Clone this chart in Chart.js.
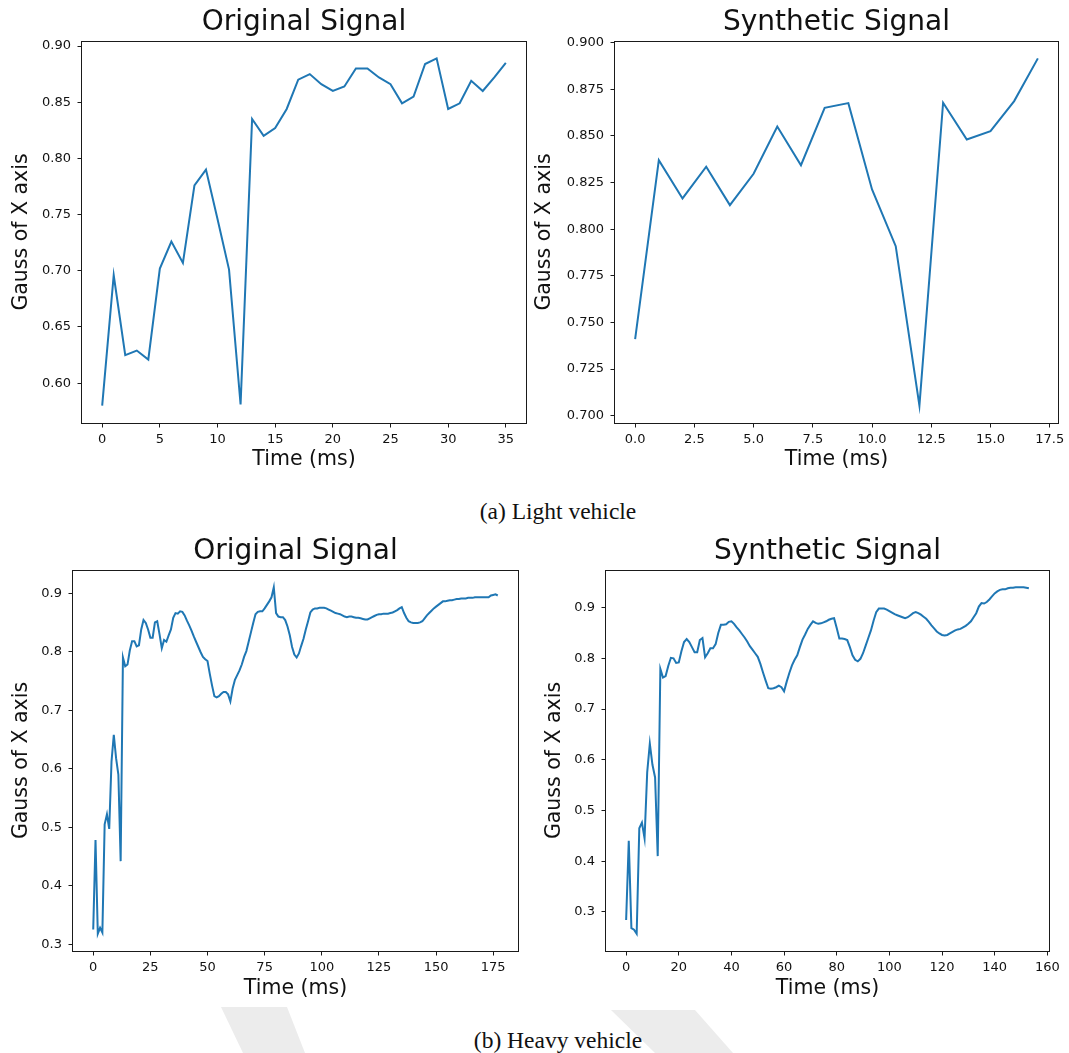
<!DOCTYPE html>
<html>
<head>
<meta charset="utf-8">
<script src="https://cdn.jsdelivr.net/npm/chart.js@4.4.1/dist/chart.umd.min.js"></script>
<style>
  body { margin: 0; background: #fff; }
  #page { position: relative; width: 1069px; height: 1053px; overflow: hidden; background: #fff; }
  canvas { position: absolute; }
  .caption { position: absolute; width: 300px; text-align: center; font-family: "Liberation Serif", serif; font-size: 23.5px; color: #111; line-height: 28px; }
  .mark { position: absolute; background: #ececec; }
</style>
</head>
<body>
<div id="page">
  <div class="mark" style="left:215px; top:1003px; width:95px; height:50px; clip-path: polygon(6px 4px, 72px 4px, 90px 50px, 28px 50px)"></div>
  <div class="mark" style="left:605px; top:1005px; width:130px; height:48px; clip-path: polygon(6px 5px, 90px 5px, 128px 48px, 50px 48px)"></div>

  <canvas id="lightOrig" width="530" height="480" style="left:0px; top:0px"></canvas>
  <canvas id="lightSynth" width="539" height="480" style="left:530px; top:0px"></canvas>
  <div class="caption" style="left:408px; top:497px">(a) Light vehicle</div>

  <canvas id="heavyOrig" width="530" height="475" style="left:0px; top:530px"></canvas>
  <canvas id="heavySynth" width="539" height="475" style="left:530px; top:530px"></canvas>
  <div class="caption" style="left:408px; top:1026px">(b) Heavy vehicle</div>
</div>

<script>
// data, one value per ms (x = index)
const lightOrig = [
  0.580, 0.696, 0.625, 0.629, 0.621, 0.702, 0.726, 0.707, 0.776, 0.790,
  0.746, 0.701, 0.581, 0.835, 0.820, 0.827, 0.844, 0.870, 0.875, 0.866,
  0.860, 0.864, 0.880, 0.880, 0.872, 0.866, 0.849, 0.855, 0.884, 0.889,
  0.844, 0.849, 0.869, 0.860, 0.872, 0.885
]

const lightSynth = [
  0.741, 0.837, 0.8165, 0.8335, 0.8129, 0.8297, 0.8551, 0.8343, 0.8651, 0.8676,
  0.8213, 0.7909, 0.7054, 0.8678, 0.8481, 0.8526, 0.8687, 0.8916
]

const heavyOrig = [
  0.325, 0.478, 0.318, 0.328, 0.320, 0.505, 0.522, 0.497, 0.612, 0.658,
  0.618, 0.590, 0.442, 0.790, 0.775, 0.778, 0.802, 0.818, 0.818, 0.809,
  0.811, 0.838, 0.854, 0.849, 0.838, 0.824, 0.824, 0.850, 0.852, 0.830,
  0.806, 0.820, 0.817, 0.828, 0.838, 0.858, 0.866, 0.865, 0.869, 0.868,
  0.862, 0.853, 0.845, 0.836, 0.826, 0.817, 0.808, 0.799, 0.791, 0.787,
  0.784, 0.762, 0.742, 0.724, 0.722, 0.724, 0.728, 0.731, 0.731, 0.727,
  0.715, 0.737, 0.752, 0.760, 0.768, 0.778, 0.791, 0.801, 0.817, 0.833,
  0.849, 0.864, 0.868, 0.869, 0.869, 0.874, 0.880, 0.886, 0.893, 0.910,
  0.866, 0.860, 0.859, 0.859, 0.854, 0.843, 0.828, 0.808, 0.795, 0.790,
  0.797, 0.810, 0.822, 0.838, 0.852, 0.867, 0.872, 0.874, 0.874, 0.875,
  0.875, 0.875, 0.874, 0.872, 0.870, 0.868, 0.866, 0.865, 0.864, 0.862,
  0.860, 0.859, 0.860, 0.860, 0.859, 0.858, 0.858, 0.857, 0.856, 0.855,
  0.855, 0.857, 0.859, 0.861, 0.863, 0.864, 0.864, 0.865, 0.865, 0.865,
  0.866, 0.867, 0.869, 0.871, 0.874, 0.876, 0.866, 0.858, 0.852, 0.850,
  0.849, 0.849, 0.849, 0.850, 0.852, 0.857, 0.862, 0.866, 0.870, 0.874,
  0.877, 0.880, 0.883, 0.886, 0.886, 0.887, 0.888, 0.888, 0.889, 0.890,
  0.890, 0.891, 0.891, 0.891, 0.892, 0.892, 0.892, 0.893, 0.893, 0.893,
  0.893, 0.893, 0.893, 0.893, 0.896, 0.897, 0.898, 0.896
]

const heavySynth = [
  0.284, 0.440, 0.268, 0.265, 0.257, 0.465, 0.476, 0.445, 0.575, 0.632,
  0.590, 0.565, 0.410, 0.779, 0.762, 0.765, 0.785, 0.801, 0.800, 0.791,
  0.792, 0.814, 0.832, 0.838, 0.832, 0.822, 0.812, 0.812, 0.836, 0.840,
  0.802, 0.810, 0.820, 0.820, 0.828, 0.850, 0.866, 0.866, 0.867, 0.872,
  0.873, 0.868, 0.861, 0.855, 0.848, 0.841, 0.833, 0.824, 0.817, 0.810,
  0.803, 0.789, 0.772, 0.756, 0.741, 0.740, 0.741, 0.743, 0.746, 0.743,
  0.735, 0.754, 0.771, 0.786, 0.797, 0.806, 0.822, 0.837, 0.847, 0.858,
  0.866, 0.873, 0.870, 0.868, 0.869, 0.871, 0.873, 0.876, 0.878, 0.879,
  0.860, 0.839, 0.839, 0.838, 0.836, 0.822, 0.806, 0.797, 0.794, 0.799,
  0.810, 0.825, 0.840, 0.855, 0.874, 0.891, 0.898, 0.898, 0.898, 0.896,
  0.893, 0.890, 0.887, 0.885, 0.883, 0.881, 0.879, 0.881, 0.885, 0.889,
  0.891, 0.889, 0.886, 0.882, 0.878, 0.872, 0.865, 0.859, 0.853, 0.849,
  0.846, 0.845, 0.846, 0.849, 0.852, 0.855, 0.857, 0.858, 0.861, 0.864,
  0.868, 0.873, 0.881, 0.889, 0.902, 0.909, 0.908, 0.911, 0.916, 0.922,
  0.928, 0.932, 0.935, 0.936, 0.936, 0.938, 0.939, 0.939, 0.940, 0.940,
  0.940, 0.940, 0.939, 0.938
]

// tick labels
const lightOrigX = [0, 5, 10, 15, 20, 25, 30, 35]
const lightOrigY = [0.60, 0.65, 0.70, 0.75, 0.80, 0.85, 0.90]
const lightSynthX = [0, 2.5, 5, 7.5, 10, 12.5, 15, 17.5]
const lightSynthY = [0.700, 0.725, 0.750, 0.775, 0.800, 0.825, 0.850, 0.875, 0.900]
const heavyOrigX = [0, 25, 50, 75, 100, 125, 150, 175]
const heavyOrigY = [0.3, 0.4, 0.5, 0.6, 0.7, 0.8, 0.9]
const heavySynthX = [0, 20, 40, 60, 80, 100, 120, 140, 160]
const heavySynthY = [0.3, 0.4, 0.5, 0.6, 0.7, 0.8, 0.9]

const FONT = '"DejaVu Sans", sans-serif'
const INK = '#111'

// matplotlib style 5% margins
const margins = (lo, hi) => {
  const m = (hi - lo) * 0.05
  return [lo - m, hi + m]
}

// box round the plot area (all four sides)
const spines = {
  id: 'spines',
  afterDraw(chart) {
    const { ctx, chartArea: a } = chart
    ctx.save()
    ctx.strokeStyle = '#1a1a1a'
    ctx.lineWidth = 1
    ctx.strokeRect(Math.round(a.left) - 0.5, Math.round(a.top) + 0.5,
      Math.round(a.right - a.left) + 1, Math.round(a.bottom - a.top))
    ctx.restore()
  }
}

const drawPanel = (id, title, values, xTicks, yTicks, xDigits, yDigits, lay) => {
  const points = values.map((v, i) => ({ x: i, y: v }))
  const [xMin, xMax] = margins(0, values.length - 1)
  const [yMin, yMax] = margins(Math.min(...values), Math.max(...values))

  return new Chart(document.getElementById(id), {
    type: 'line',
    data: {
      datasets: [{
        data: points,
        borderColor: '#1f77b4',
        borderWidth: 2,
        pointRadius: 0,
        tension: 0,
        fill: false
      }]
    },
    options: {
      responsive: false,
      animation: false,
      devicePixelRatio: 1,
      layout: { padding: { left: 0, top: 0, bottom: 0, right: lay.right } },
      plugins: {
        legend: { display: false },
        tooltip: { enabled: false },
        title: {
          display: true,
          text: title,
          fullSize: false,
          color: INK,
          font: { family: FONT, size: 28, weight: 'normal' },
          padding: { top: lay.titleTop, bottom: lay.titleBottom }
        }
      },
      scales: {
        x: {
          type: 'linear',
          min: xMin,
          max: xMax,
          afterBuildTicks: s => { s.ticks = xTicks.map(v => ({ value: v })) },
          afterFit: s => { s.height = lay.xAxis },
          grid: { drawOnChartArea: false, color: '#1a1a1a', tickLength: 4.5 },
          border: { display: false },
          ticks: {
            autoSkip: false, maxRotation: 0, padding: 4, color: INK,
            font: { family: FONT, size: 13 },
            callback: v => v.toFixed(xDigits)
          },
          title: {
            display: true, text: 'Time (ms)', color: INK,
            font: { family: FONT, size: 20.5 },
            padding: { top: 0, bottom: lay.xTitle }
          }
        },
        y: {
          min: yMin,
          max: yMax,
          afterBuildTicks: s => { s.ticks = yTicks.map(v => ({ value: v })) },
          afterFit: s => { s.width = lay.yAxis },
          grid: { drawOnChartArea: false, color: '#1a1a1a', tickLength: 4.5 },
          border: { display: false },
          ticks: {
            autoSkip: false, padding: 6.5, color: INK,
            font: { family: FONT, size: 13 },
            callback: v => v.toFixed(yDigits)
          },
          title: {
            display: true, text: 'Gauss of X axis', color: INK,
            font: { family: FONT, size: 20.5 },
            padding: { top: lay.yTitle, bottom: 0 }
          }
        }
      }
    },
    plugins: [spines]
  })
}

drawPanel('lightOrig', 'Original Signal', lightOrig, lightOrigX, lightOrigY, 0, 2,
  { right: 4, titleTop: 6.2, titleBottom: 1.2, yAxis: 82, xAxis: 57, yTitle: 8.9, xTitle: 7.7 })
drawPanel('lightSynth', 'Synthetic Signal', lightSynth, lightSynthX, lightSynthY, 1, 3,
  { right: 11, titleTop: 6.2, titleBottom: 1.2, yAxis: 85, xAxis: 57, yTitle: 2.8, xTitle: 7.7 })
drawPanel('heavyOrig', 'Original Signal', heavyOrig, heavyOrigX, heavyOrigY, 0, 1,
  { right: 12, titleTop: 4.9, titleBottom: 1.5, yAxis: 73, xAxis: 54, yTitle: 8.9, xTitle: 3.7 })
drawPanel('heavySynth', 'Synthetic Signal', heavySynth, heavySynthX, heavySynthY, 0, 1,
  { right: 20, titleTop: 4.9, titleBottom: 1.5, yAxis: 76, xAxis: 54, yTitle: 12.3, xTitle: 3.7 })
</script>
</body>
</html>
